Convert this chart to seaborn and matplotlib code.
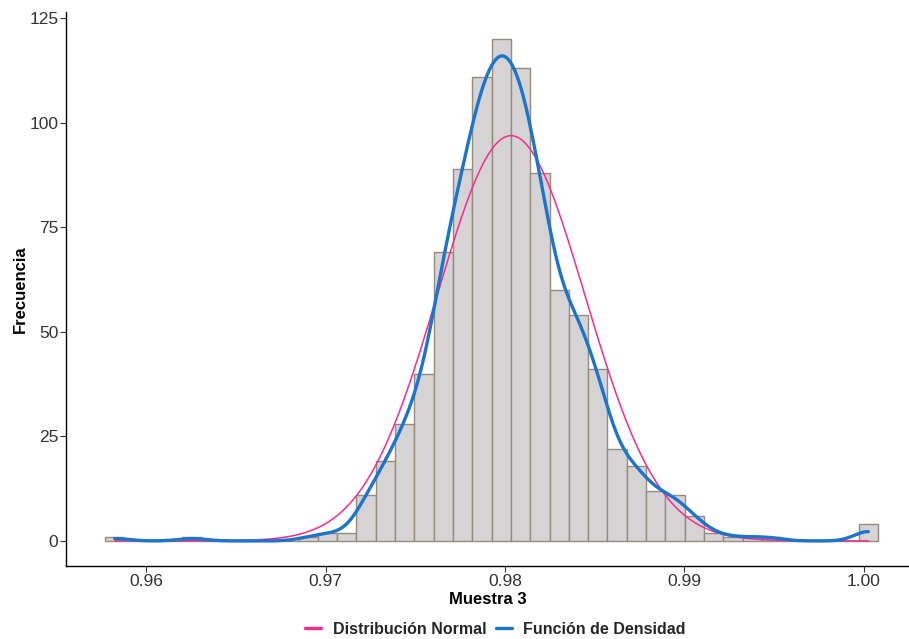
import numpy as np
import pandas as pd
import matplotlib
matplotlib.use("Agg")
import matplotlib.pyplot as plt
import seaborn as sns
from matplotlib.lines import Line2D

# ---- data ----
bin_start = 0.95772
bin_width = 0.0010765
counts = [1, 0, 0, 0, 1, 0, 0, 0, 0, 0,
          1, 2, 2, 11, 19, 28, 40, 69, 89, 111,
          120, 113, 88, 60, 54, 41, 22, 18, 12, 11,
          6, 2, 1, 1, 1, 0, 0, 0, 0, 4]
x_ticks = [0.96, 0.97, 0.98, 0.99, 1.00]
x_tick_labels = ["0.96", "0.97", "0.98", "0.99", "1.00"]
y_ticks = [0, 25, 50, 75, 100, 125]
x_label = "Muestra 3"
y_label = "Frecuencia"
legend_labels = ["Distribución Normal", "Función de Densidad"]

counts = np.array(counts, dtype=float)
nbins = len(counts)
edges = bin_start + bin_width * np.arange(nbins + 1)
centers = (edges[:-1] + edges[1:]) / 2
n = counts.sum()

df = pd.DataFrame({"x": centers, "w": counts})

# normal fit from the data
mu = np.average(centers, weights=counts)
sd = np.sqrt(np.average((centers - mu) ** 2, weights=counts) + bin_width ** 2 / 12)
xs = np.linspace(centers[0], centers[-1], 600)
norm_y = n * bin_width * np.exp(-0.5 * ((xs - mu) / sd) ** 2) / (sd * np.sqrt(2 * np.pi))
df_norm = pd.DataFrame({"x": xs, "y": norm_y})

PINK = "#F72A8F"
BLUE = "#1C74CC"
FILL = "#D5D3D4"
EDGE = "#968B7C"

sns.set_theme(style="ticks")
plt.rcParams["font.family"] = ["Liberation Sans", "DejaVu Sans"]

fig = plt.figure(figsize=(9.09, 6.39), dpi=100)
ax = fig.add_axes([66 / 909, 73 / 639, 1 - 66 / 909, (566 - 11.7) / 639])

sns.histplot(data=df, x="x", weights="w", bins=nbins,
             binrange=(float(edges[0]), float(edges[-1])), stat="count",
             color=FILL, edgecolor=EDGE, linewidth=1.0, alpha=1.0, ax=ax)

sns.lineplot(data=df_norm, x="x", y="y", color=PINK, linewidth=1.1, ax=ax)

n_before = len(ax.lines)
sns.kdeplot(data=df, x="x", weights="w", bw_method=0.18, cut=0,
            color=BLUE, linewidth=2.4, ax=ax, gridsize=600)
for ln in ax.lines[n_before:]:
    ln.set_ydata(np.asarray(ln.get_ydata()) * n * bin_width)

ax.set_xlim(0.95554, 1.00251)
ax.set_ylim(-6.0, 126.5)
ax.set_xticks(x_ticks)
ax.set_xticklabels(x_tick_labels)
ax.set_yticks(y_ticks)

for side in ["top", "right"]:
    ax.spines[side].set_visible(False)
for side in ["left", "bottom"]:
    ax.spines[side].set_color("black")
    ax.spines[side].set_linewidth(1.0)

ax.tick_params(axis="both", colors="#333333", labelsize=12.5, length=4, width=0.8,
               labelcolor="#333333", pad=2)
ax.tick_params(axis="y", pad=1.5)
ax.set_xlabel(x_label, fontsize=12, fontweight="bold", color="black")
ax.set_ylabel(y_label, fontsize=12, fontweight="bold", color="black")
ax.yaxis.set_label_coords((28 - 66) / 843, 0.5)
ax.xaxis.set_label_coords(0.5, (566 - 592) / 554.3)

handles = [Line2D([0], [0], color=PINK, lw=2.4),
           Line2D([0], [0], color=BLUE, lw=2.4)]
fig.legend(handles, legend_labels, loc="center", bbox_to_anchor=(0.545, 1 - 629 / 639),
           ncol=2, frameon=False, handlelength=1.0, handletextpad=0.7,
           columnspacing=0.6, prop={"weight": "bold", "size": 11.5})

fig.savefig("out.png", dpi=100)
